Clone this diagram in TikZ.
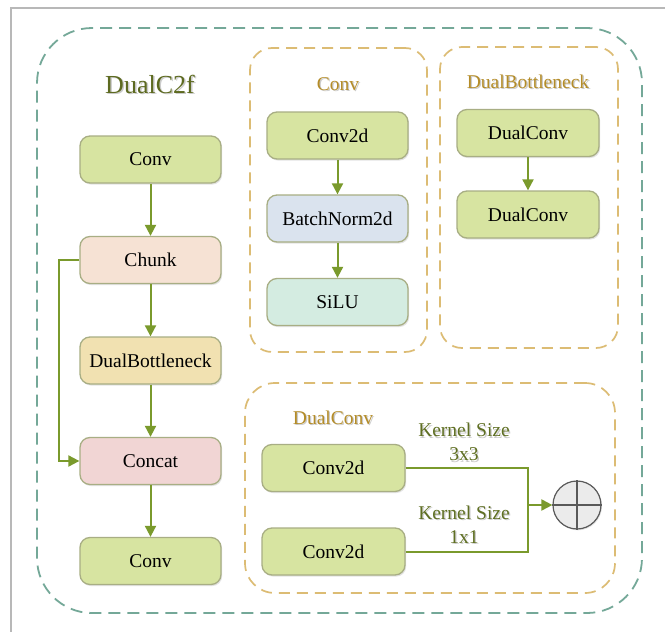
\documentclass[tikz,border=0pt]{standalone}
\usepackage{fontspec}
\setmainfont{Liberation Serif}
\usetikzlibrary{arrows.meta,shadows,calc}

\definecolor{boxgreen}{HTML}{D7E4A1}
\definecolor{boxpeach}{HTML}{F6E2D4}
\definecolor{boxsand}{HTML}{F1E1B1}
\definecolor{boxrose}{HTML}{F1D5D4}
\definecolor{boxblue}{HTML}{DAE3EE}
\definecolor{boxmint}{HTML}{D4ECE1}
\definecolor{boxedge}{HTML}{A8AE84}
\definecolor{flow}{HTML}{7A9A2C}
\definecolor{outerdash}{HTML}{74A898}
\definecolor{innerdash}{HTML}{DCBC74}
\definecolor{goldtext}{HTML}{B48C28}
\definecolor{olivetext}{HTML}{5D6A20}
\definecolor{kerneltext}{HTML}{5F6F22}

\tikzset{
  x=1pt, y=-1pt,
  block/.style={draw=boxedge, line width=1.3pt, rounded corners=10pt,
    minimum width=141pt, minimum height=47pt, inner sep=0pt,
    font=\fontsize{19.5}{23}\selectfont, text=black,
    drop shadow={shadow xshift=1.2pt, shadow yshift=-1.6pt, opacity=0.22}},
  greenbox/.style={block, fill=boxgreen},
  outerframe/.style={draw=outerdash, line width=1.8pt, dash pattern=on 12pt off 7pt, inner sep=0pt},
  innerframe/.style={draw=innerdash, line width=1.7pt, dash pattern=on 11pt off 7pt, inner sep=0pt},
  title/.style={font=\fontsize{19.5}{23}\selectfont, text=goldtext},
  tshadow/.style={text=black!45, opacity=0.45},
  flowline/.style={draw=flow, line width=2pt},
  flowarrow/.style={flowline, -{Triangle[width=11pt,length=11pt]}},
  kernel/.style={font=\fontsize{19.5}{24}\selectfont, text=kerneltext, align=center},
}

\begin{document}
\begin{tikzpicture}
\useasboundingbox (0,0) rectangle (665,632);
\fill[white] (0,0) rectangle (665,632);

% sheet border
\draw[color=black!28, line width=1.4pt] (11,640) -- (11,8) -- (675,8);

% dashed containers
\node[outerframe, rounded corners=55pt, minimum width=605pt, minimum height=585pt] (outer) at (339.5,320.5) {};
\node[innerframe, rounded corners=22pt, minimum width=177pt, minimum height=304pt] (convframe) at (338.5,200) {};
\node[innerframe, rounded corners=22pt, minimum width=178pt, minimum height=301pt] (dbframe) at (529,197.5) {};
\node[innerframe, rounded corners=30pt, minimum width=370pt, minimum height=210pt] (dcframe) at (430,488) {};

% titles
\node[tshadow, font=\fontsize{26}{30}\selectfont] (tmainS) at (151.5,85.5) {DualC2f};
\node[font=\fontsize{26}{30}\selectfont, text=olivetext] (tmain) at (150,84) {DualC2f};
\node[title, tshadow] (tconvS) at (339.3,85.3) {Conv};
\node[title] (tconv) at (338,84) {Conv};
\node[title, tshadow] (tdbS) at (529.3,83.3) {DualBottleneck};
\node[title] (tdb) at (528,82) {DualBottleneck};
\node[title, tshadow] (tdcS) at (334.3,419.3) {DualConv};
\node[title] (tdc) at (333,418) {DualConv};

% DualC2f column
\node[greenbox] (conv1) at (150.5,159.5) {Conv};
\node[block, fill=boxpeach] (chunk) at (150.5,260) {Chunk};
\node[block, fill=boxsand] (dbn) at (150.5,360.5) {DualBottleneck};
\node[block, fill=boxrose] (concat) at (150.5,461) {Concat};
\node[greenbox] (conv2) at (150.5,561) {Conv};

\draw[flowarrow] (conv1) -- (chunk);
\draw[flowarrow] (chunk) -- (dbn);
\draw[flowarrow] (dbn) -- (concat);
\draw[flowarrow] (concat) -- (conv2);
\coordinate (skip) at (59,260);
\draw[flowarrow] (chunk.west) -- (skip) |- (concat.west);

% Conv block
\node[greenbox] (c2d) at (337.5,135.5) {Conv2d};
\node[block, fill=boxblue] (bn) at (337.5,218.5) {BatchNorm2d};
\node[block, fill=boxmint] (silu) at (337.5,302) {SiLU};
\draw[flowarrow] (c2d) -- (bn);
\draw[flowarrow] (bn) -- (silu);

% DualBottleneck block
\node[greenbox, minimum width=142pt] (dca1) at (528,133) {DualConv};
\node[greenbox, minimum width=142pt] (dca2) at (528,214.5) {DualConv};
\draw[flowarrow] (dca1) -- (dca2);

% DualConv block
\node[greenbox, minimum width=143pt] (k3) at (333.5,468) {Conv2d};
\node[greenbox, minimum width=143pt] (k1) at (333.5,551.5) {Conv2d};
\node[draw=black!65, line width=1.2pt, fill=black!8, circle, minimum size=48pt, inner sep=0pt,
  drop shadow={shadow xshift=1pt, shadow yshift=-1.3pt, opacity=0.2}] (sum) at (577,505) {};
\draw[black!65, line width=1.2pt] (sum.north) -- (sum.south) (sum.west) -- (sum.east);
\coordinate (merge) at (528,505);
\draw[flowline] (k3.east) -| (merge);
\draw[flowline] (k1.east) -| (merge);
\draw[flowarrow] (merge) -- (sum.west);

\node[kernel, text=black!45, opacity=0.45] (lab3S) at (465.3,443.5) {Kernel Size\\3x3};
\node[kernel] (lab3) at (464,442) {Kernel Size\\3x3};
\node[kernel, text=black!45, opacity=0.45] (lab1S) at (465.3,526) {Kernel Size\\1x1};
\node[kernel] (lab1) at (464,524.5) {Kernel Size\\1x1};
\end{tikzpicture}
\end{document}
